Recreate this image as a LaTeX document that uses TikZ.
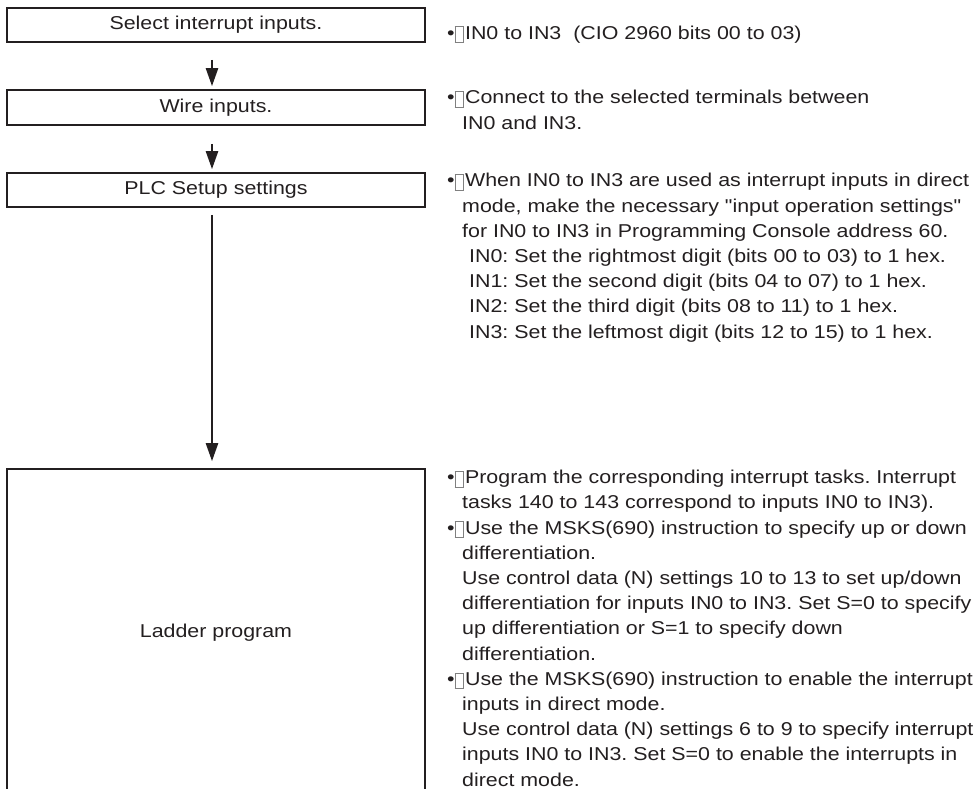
\documentclass[tikz,border=0pt]{standalone}
\usepackage{fontspec}
\setmainfont{Liberation Sans}[FakeStretch=1.15]
\newfontfamily\qfont{Liberation Sans}[FakeStretch=1.15, Ligatures=TeXOff]
\usetikzlibrary{arrows.meta, positioning}

\definecolor{ink}{RGB}{35,31,32}
\newcommand{\miss}{{\color{gray}\setlength{\fboxsep}{0pt}\setlength{\fboxrule}{0.7pt}\fbox{\rule[-3pt]{0pt}{15pt}\hspace{8pt}}}}
\newcommand{\bul}{•\miss\hspace{1pt}}
\newcommand{\ind}{\hspace*{15pt}}
\newcommand{\indd}{\hspace*{22pt}}
\newcommand{\dq}{{\qfont"}}

\tikzset{
  stepbox/.style={draw=ink, line width=1.6pt, minimum width=418pt, inner sep=0pt, text=ink},
  flowarrow/.style={ink, line width=2.3pt, -{Triangle[length=18pt,width=12pt]}},
  note/.style={anchor=base west, align=left, inner sep=0pt, text=ink},
}

\begin{document}
\frenchspacing
\begin{tikzpicture}[x=1pt, y=-1pt, font=\fontsize{18.6}{25.2}\selectfont]
\useasboundingbox (0,0) rectangle (976,788);

% steps
\node[stepbox, minimum height=34pt] (sel) at (216,25) {Select interrupt inputs.};
\node[stepbox, minimum height=35pt] (wire) at (216,107.5) {Wire inputs.};
\node[stepbox, minimum height=34pt] (plc) at (216,190) {PLC Setup settings};
\node[stepbox, minimum height=328pt] (ladder) at (216,633) {Ladder program};

% arrows
\draw[flowarrow, shorten <=17pt, shorten >=3pt] ([xshift=-4pt]sel.south) -- ([xshift=-4pt]wire.north);
\draw[flowarrow, shorten <=18pt, shorten >=3pt] ([xshift=-4pt]wire.south) -- ([xshift=-4pt]plc.north);
\draw[flowarrow, shorten <=7pt, shorten >=7pt] ([xshift=-4pt]plc.south) -- ([xshift=-4pt]ladder.north);

% notes (placed by the baseline of their last line)
\node[note] (selnote) at (447,39) {\bul IN0 to IN3\ \ (CIO 2960 bits 00 to 03)};
\node[note] (wirenote) at (447,129) {\bul Connect to the selected terminals between\\
  \ind IN0 and IN3.};
\node[note] (plcnote) at (447,338) {\bul When IN0 to IN3 are used as interrupt inputs in direct\\
  \ind mode, make the necessary \dq input operation settings\dq\\
  \ind for IN0 to IN3 in Programming Console address 60.\\
  \indd IN0: Set the rightmost digit (bits 00 to 03) to 1 hex.\\
  \indd IN1: Set the second digit (bits 04 to 07) to 1 hex.\\
  \indd IN2: Set the third digit (bits 08 to 11) to 1 hex.\\
  \indd IN3: Set the leftmost digit (bits 12 to 15) to 1 hex.};
\node[note] (laddernote) at (447,786) {\bul Program the corresponding interrupt tasks. Interrupt\\
  \ind tasks 140 to 143 correspond to inputs IN0 to IN3).\\
  \bul Use the MSKS(690) instruction to specify up or down\\
  \ind differentiation.\\
  \ind Use control data (N) settings 10 to 13 to set up/down\\
  \ind differentiation for inputs IN0 to IN3. Set S=0 to specify\\
  \ind up differentiation or S=1 to specify down\\
  \ind differentiation.\\
  \bul Use the MSKS(690) instruction to enable the interrupt\\
  \ind inputs in direct mode.\\
  \ind Use control data (N) settings 6 to 9 to specify interrupt\\
  \ind inputs IN0 to IN3. Set S=0 to enable the interrupts in\\
  \ind direct mode.};
\end{tikzpicture}
\end{document}
